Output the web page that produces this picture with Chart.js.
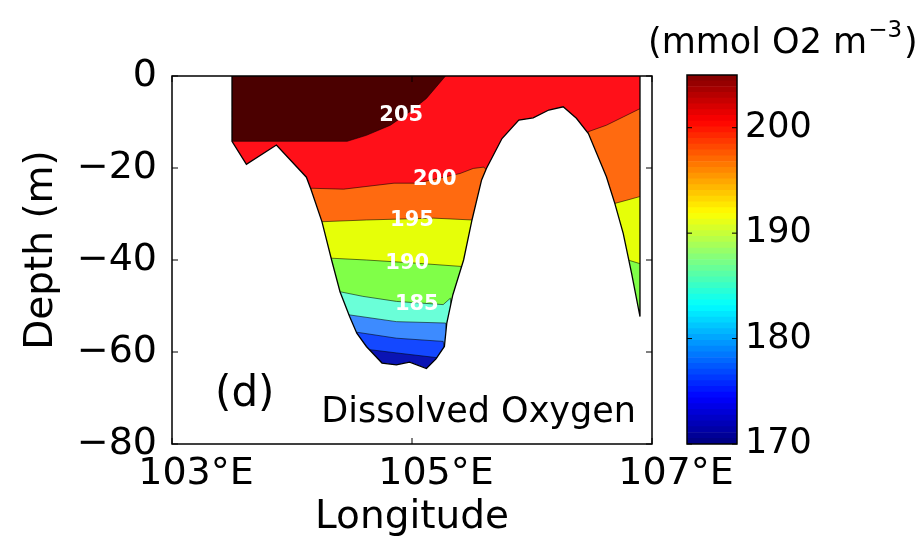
<!DOCTYPE html>
<html>
<head>
<meta charset="utf-8">
<script src="https://cdn.jsdelivr.net/npm/chart.js@4.4.1/dist/chart.umd.min.js"></script>
<style>
  html, body { margin: 0; padding: 0; background: #fff; }
  #wrap { position: relative; width: 923px; height: 557px; }
  #wrap canvas { position: absolute; left: 0; top: 0; }
</style>
</head>
<body>
<div id="wrap">
  <canvas id="section" width="923" height="557"></canvas>
  <canvas id="cbar" width="923" height="557"></canvas>
</div>
<script>
// Seabed profile (longitude in degrees E, depth in m)
const bedLon = [103.5, 103.5, 103.62, 103.87, 104.12, 104.16, 104.25, 104.33, 104.40, 104.48, 104.54, 104.62, 104.75, 104.87, 104.98, 105.12, 105.20, 105.27, 105.29, 105.34, 105.43, 105.50, 105.58, 105.62, 105.75, 105.89, 106.01, 106.14, 106.26, 106.37, 106.47, 106.62, 106.69, 106.76, 106.83, 106.9, 106.9];
const bedDep = [0, -14.2, -19.2, -15.0, -22.0, -24.8, -31.7, -40.0, -46.9, -52.3, -55.9, -58.8, -62.4, -62.8, -62.2, -63.6, -61.5, -58.8, -53.7, -47.6, -40.0, -31.3, -22.6, -20.1, -13.6, -9.6, -9.1, -7.4, -6.7, -9.2, -12.5, -21.9, -27.7, -34.2, -42.9, -52.3, 0];

// Contour lines of dissolved oxygen (where a level does not exist the line runs under the seabed)
const c205Lon = [103.5, 104.46, 104.62, 104.82, 104.98, 105.12, 105.26, 105.28];
const c205Dep = [-14.2, -14.2, -12.9, -10.7, -7.8, -4.9, -0.6, 0];
const c200Lon = [103.5, 104.16, 104.43, 104.85, 105.04, 105.40, 105.51, 105.60, 105.75, 106.00, 106.30, 106.47, 106.62, 106.76, 106.9];
const c200Dep = [-85, -24.4, -24.6, -23.3, -23.3, -21.2, -20.1, -19.8, -25, -25, -25, -12.1, -10.7, -8.9, -7.1];
const c195Lon = [103.5, 104.23, 104.62, 105.18, 105.50, 105.60, 106.60, 106.69, 106.79, 106.9];
const c195Dep = [-85, -31.7, -31.3, -30.9, -31.3, -45, -45, -27.7, -27.0, -26.2];
const c190Lon = [103.5, 104.32, 104.62, 105.04, 105.41, 105.50, 106.70, 106.80, 106.9];
const c190Dep = [-85, -39.6, -40.0, -40.7, -41.4, -60, -60, -40.0, -40.8];
const c185Lon = [103.5, 104.40, 104.59, 104.87, 105.26, 105.32, 105.40, 106.9];
const c185Dep = [-85, -46.9, -47.9, -49.0, -49.7, -48.3, -85, -85];
const c182Lon = [103.5, 104.47, 104.87, 105.28, 105.40, 106.9];
const c182Dep = [-85, -51.9, -53.4, -53.7, -85, -85];
const c180Lon = [103.5, 104.54, 104.87, 105.26, 105.40, 106.9];
const c180Dep = [-85, -55.7, -57.0, -57.7, -85, -85];
const c177Lon = [103.5, 104.65, 104.87, 105.23, 105.40, 106.9];
const c177Dep = [-85, -59.5, -60.2, -61.3, -85, -85];

// Contour labels
const labelText = ['205', '200', '195', '190', '185'];
const labelLon = [104.91, 105.19, 105.00, 104.96, 105.04];
const labelDep = [-8.5, -22.6, -31.4, -40.8, -49.6];

// Axis ticks
const lonTicks = [103, 105, 107];
const depTicks = [0, -20, -40, -60, -80];
const cbarTicks = [170, 180, 190, 200];
const cbarMin = 170;
const cbarMax = 205;
const cbarSteps = 64;

Chart.defaults.font.family = "'DejaVu Sans', sans-serif";
Chart.defaults.color = '#000';

function pts(lon, dep) {
    return lon.map((x, i) => ({ x: x, y: dep[i] }));
}

function band(label, lon, dep, color) {
    return {
        label: label,
        data: pts(lon, dep),
        fill: 'end',
        backgroundColor: color,
        borderColor: 'rgba(0,0,0,0.55)',
        borderWidth: 1,
        pointRadius: 0,
        tension: 0
    };
}

// Frame, inward ticks and text labels
const sectionDecor = {
    id: 'sectionDecor',
    afterDatasetsDraw(chart) {
        const { ctx, scales: { x, y } } = chart;
        ctx.save();
        ctx.fillStyle = '#fff';
        ctx.font = "bold 21px 'DejaVu Sans'";
        ctx.textAlign = 'center';
        ctx.textBaseline = 'middle';
        labelText.forEach((t, i) => {
            ctx.fillText(t, x.getPixelForValue(labelLon[i]), y.getPixelForValue(labelDep[i]));
        });
        ctx.restore();
    },
    afterDraw(chart) {
        const { ctx, chartArea: a, scales: { x, y } } = chart;
        ctx.save();
        ctx.strokeStyle = '#000';
        ctx.lineWidth = 1.5;
        ctx.strokeRect(a.left, a.top, a.right - a.left, a.bottom - a.top);
        ctx.beginPath();
        lonTicks.forEach(v => {
            const p = x.getPixelForValue(v);
            ctx.moveTo(p, a.bottom); ctx.lineTo(p, a.bottom - 6);
            ctx.moveTo(p, a.top); ctx.lineTo(p, a.top + 6);
        });
        depTicks.forEach(v => {
            const p = y.getPixelForValue(v);
            ctx.moveTo(a.left, p); ctx.lineTo(a.left + 6, p);
            ctx.moveTo(a.right, p); ctx.lineTo(a.right - 6, p);
        });
        ctx.lineWidth = 1;
        ctx.stroke();

        ctx.fillStyle = '#000';
        ctx.textBaseline = 'middle';
        ctx.font = "42px 'DejaVu Sans'";
        ctx.textAlign = 'left';
        ctx.fillText('(d)', a.left + 43, a.bottom - 49);
        ctx.font = "35px 'DejaVu Sans'";
        ctx.textAlign = 'right';
        ctx.fillText('Dissolved Oxygen', a.right - 16, a.bottom - 31);

        // y axis title
        ctx.translate(42, 250);
        ctx.rotate(-Math.PI / 2);
        ctx.textAlign = 'center';
        ctx.font = "39px 'DejaVu Sans'";
        ctx.fillText('Depth (m)', 0, 0);
        ctx.restore();
    }
};

// Datasets are drawn last-to-first, so the seabed mask comes first
const section = new Chart(document.getElementById('section'), {
    type: 'line',
    data: {
        datasets: [
            {
                label: 'Seabed',
                data: pts(bedLon, bedDep),
                fill: 'start',
                backgroundColor: '#ffffff',
                borderColor: '#000',
                borderWidth: 1.3,
                pointRadius: 0,
                tension: 0
            },
            band('205', c205Lon, c205Dep, '#4b0000'),
            band('200', c200Lon, c200Dep, '#ff1019'),
            band('195', c195Lon, c195Dep, '#ff6a10'),
            band('190', c190Lon, c190Dep, '#e6ff08'),
            band('185', c185Lon, c185Dep, '#80ff48'),
            band('182.5', c182Lon, c182Dep, '#6affd8'),
            band('180', c180Lon, c180Dep, '#3d8bff'),
            band('177.5', c177Lon, c177Dep, '#1448ff'),
            {
                label: 'Bottom layer',
                data: pts(bedLon, bedDep),
                fill: 'end',
                backgroundColor: '#0a14b4',
                borderWidth: 0,
                pointRadius: 0,
                tension: 0
            }
        ]
    },
    options: {
        responsive: false,
        animation: false,
        layout: { padding: { left: 0, top: 76, right: 271, bottom: 0 } },
        plugins: { legend: { display: false }, tooltip: { enabled: false } },
        scales: {
            x: {
                type: 'linear',
                min: 103,
                max: 107,
                afterBuildTicks: s => { s.ticks = lonTicks.map(v => ({ value: v })); },
                afterFit: s => { s.height = 113; },
                grid: { display: false, drawTicks: false },
                border: { display: false },
                ticks: {
                    font: { size: 38 },
                    padding: 7,
                    labelOffset: 24,
                    maxRotation: 0,
                    autoSkip: false,
                    callback: v => v + '°E'
                },
                title: {
                    display: true,
                    text: 'Longitude',
                    font: { size: 39 },
                    padding: { top: 0, bottom: 16 }
                }
            },
            y: {
                type: 'linear',
                min: -80,
                max: 0,
                afterBuildTicks: s => { s.ticks = depTicks.map(v => ({ value: v })); },
                afterFit: s => { s.width = 172; },
                grid: { display: false, drawTicks: false },
                border: { display: false },
                ticks: {
                    font: { size: 38 },
                    padding: 15,
                    callback: v => (v < 0 ? '\u2212' + (-v) : String(v))
                }
            }
        }
    },
    plugins: [sectionDecor]
});

// Colorbar: jet colormap steps
function jet(t) {
    const c = v => Math.round(255 * Math.max(0, Math.min(1, v)));
    return 'rgb(' + c(1.5 - Math.abs(4 * t - 3)) + ',' + c(1.5 - Math.abs(4 * t - 2)) + ',' + c(1.5 - Math.abs(4 * t - 1)) + ')';
}

const cbarSets = [];
for (let i = 0; i < cbarSteps; i++) {
    const lo = cbarMin + (cbarMax - cbarMin) * i / cbarSteps;
    const hi = cbarMin + (cbarMax - cbarMin) * (i + 1) / cbarSteps;
    cbarSets.push({
        data: [[lo, hi]],
        backgroundColor: jet((i + 0.5) / cbarSteps),
        borderWidth: 0,
        grouped: false,
        barPercentage: 1,
        categoryPercentage: 1
    });
}

const cbarDecor = {
    id: 'cbarDecor',
    afterDraw(chart) {
        const { ctx, chartArea: a, scales: { y } } = chart;
        ctx.save();
        ctx.strokeStyle = '#000';
        ctx.lineWidth = 1.5;
        ctx.strokeRect(a.left, a.top, a.right - a.left, a.bottom - a.top);
        ctx.beginPath();
        cbarTicks.forEach(v => {
            const p = y.getPixelForValue(v);
            ctx.moveTo(a.left, p); ctx.lineTo(a.left + 5, p);
            ctx.moveTo(a.right, p); ctx.lineTo(a.right - 5, p);
        });
        ctx.lineWidth = 1;
        ctx.stroke();

        // unit title with superscript
        ctx.fillStyle = '#000';
        ctx.textBaseline = 'alphabetic';
        ctx.textAlign = 'left';
        let xPos = a.left - 39;
        const base = a.top - 22;
        ctx.font = "35px 'DejaVu Sans'";
        ctx.fillText('(mmol O2 m', xPos, base);
        xPos += ctx.measureText('(mmol O2 m').width + 1;
        ctx.font = "23px 'DejaVu Sans'";
        ctx.fillText('\u22123', xPos, base - 16);
        xPos += ctx.measureText('\u22123').width + 2;
        ctx.font = "35px 'DejaVu Sans'";
        ctx.fillText(')', xPos, base);
        ctx.restore();
    }
};

const cbar = new Chart(document.getElementById('cbar'), {
    type: 'bar',
    data: { labels: [''], datasets: cbarSets },
    options: {
        responsive: false,
        animation: false,
        layout: { padding: { left: 687, top: 75, right: 0, bottom: 113 } },
        plugins: { legend: { display: false }, tooltip: { enabled: false } },
        scales: {
            x: { display: false },
            y: {
                position: 'right',
                min: cbarMin,
                max: cbarMax,
                afterBuildTicks: s => { s.ticks = cbarTicks.map(v => ({ value: v })); },
                afterFit: s => { s.width = 186; },
                grid: { display: false, drawTicks: false },
                border: { display: false },
                ticks: { font: { size: 35 }, padding: 8 }
            }
        }
    },
    plugins: [cbarDecor]
});
</script>
</body>
</html>
